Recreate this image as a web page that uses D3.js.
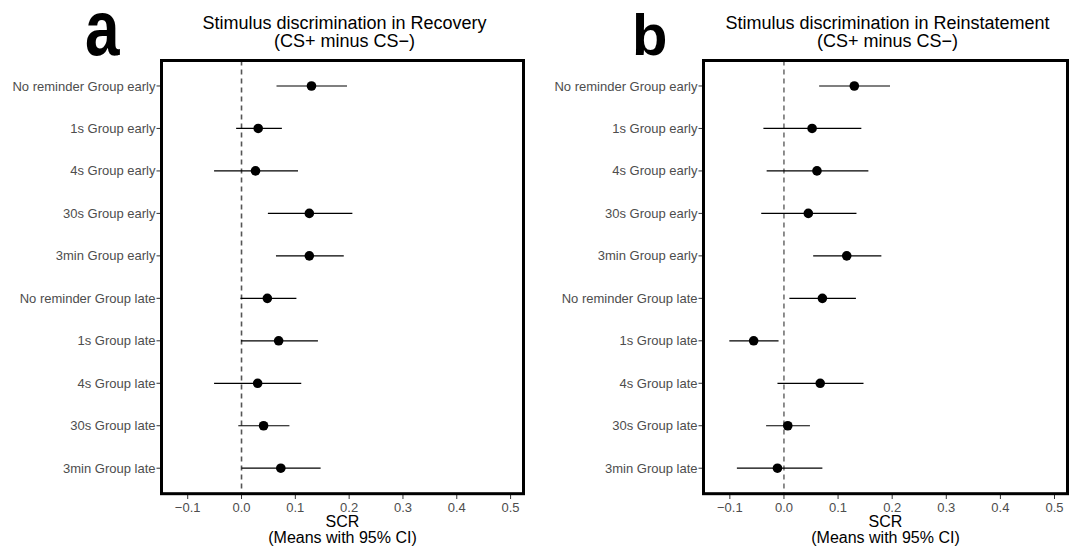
<!DOCTYPE html>
<html lang="en">
<head>
<meta charset="UTF-8" />
<script src="https://d3js.org/d3.v7.min.js"></script>
<title>Stimulus discrimination</title>
<style>
  body { margin: 0; background: #fff; }
  svg { font-family: "Liberation Sans", Arial, sans-serif; }
  .tick-label { fill: #4d4d4d; font-size: 13px; }
  .ci { stroke: #000; stroke-width: 1.2; }
  .dot { fill: #000; }
</style>
</head>
<body>
<script>
// groups, top to bottom
var groups = ["No reminder Group early", "1s Group early", "4s Group early", "30s Group early", "3min Group early",
              "No reminder Group late", "1s Group late", "4s Group late", "30s Group late", "3min Group late"];

// panel a: recovery
var recMean = [0.130, 0.031, 0.026, 0.126, 0.126, 0.048, 0.069, 0.030, 0.041, 0.073];
var recLow  = [0.065, -0.010, -0.051, 0.049, 0.064, -0.002, -0.001, -0.051, -0.006, 0.000];
var recHigh = [0.196, 0.075, 0.105, 0.206, 0.190, 0.102, 0.142, 0.111, 0.089, 0.147];

// panel b: reinstatement
var reiMean = [0.130, 0.052, 0.061, 0.045, 0.116, 0.071, -0.056, 0.067, 0.007, -0.012];
var reiLow  = [0.065, -0.038, -0.032, -0.042, 0.054, 0.010, -0.101, -0.012, -0.033, -0.087];
var reiHigh = [0.196, 0.143, 0.156, 0.134, 0.180, 0.133, -0.010, 0.147, 0.048, 0.071];

var xTicks = [-0.1, 0, 0.1, 0.2, 0.3, 0.4, 0.5];

var width = 1072, height = 547;
var svg = d3.select("body").append("svg").attr("width", width).attr("height", height);

function panel(opt) {
  var x = d3.scaleLinear().domain([-0.1487, 0.524]).range([opt.left, opt.right]);
  var y = d3.scalePoint().domain(groups).range([60.5, 493.7]).padding(0.6);
  var g = svg.append("g");
  var cx = (opt.left + opt.right) / 2;

  // y axis labels + ticks
  g.selectAll(".ylab").data(groups).enter().append("text")
    .attr("class", "tick-label")
    .attr("x", opt.left - 6).attr("y", function(d){ return y(d); })
    .attr("dy", "0.35em").attr("text-anchor", "end")
    .text(function(d){ return d; });
  g.selectAll(".ytick").data(groups).enter().append("line")
    .attr("x1", opt.left - 5).attr("x2", opt.left)
    .attr("y1", function(d){ return y(d); }).attr("y2", function(d){ return y(d); })
    .attr("stroke", "#333").attr("stroke-width", 1);

  // x axis
  g.selectAll(".xtick").data(xTicks).enter().append("line")
    .attr("x1", function(d){ return x(d); }).attr("x2", function(d){ return x(d); })
    .attr("y1", 494).attr("y2", 499)
    .attr("stroke", "#333").attr("stroke-width", 1);
  g.selectAll(".xlab").data(xTicks).enter().append("text")
    .attr("class", "tick-label")
    .attr("x", function(d){ return x(d); }).attr("y", 511.5)
    .attr("text-anchor", "middle")
    .text(function(d){ return d3.format(".1f")(d).replace("-", "\u2212"); });

  // zero line
  g.append("line")
    .attr("x1", x(0)).attr("x2", x(0)).attr("y1", 60.5).attr("y2", 493.7)
    .attr("stroke", opt.zeroColor).attr("stroke-width", opt.zeroWidth)
    .attr("stroke-dasharray", "5,4");

  // intervals and means
  var rows = groups.map(function(d, i){ return {g: d, m: opt.mean[i], lo: opt.low[i], hi: opt.high[i]}; });
  g.selectAll(".ci").data(rows).enter().append("line")
    .attr("class", "ci")
    .attr("x1", function(d){ return x(d.lo); }).attr("x2", function(d){ return x(d.hi); })
    .attr("y1", function(d){ return y(d.g); }).attr("y2", function(d){ return y(d.g); });
  g.selectAll(".dot").data(rows).enter().append("circle")
    .attr("class", "dot")
    .attr("cx", function(d){ return x(d.m); }).attr("cy", function(d){ return y(d.g); })
    .attr("r", 4.8);

  // border
  g.append("rect")
    .attr("x", opt.left).attr("y", 60.5)
    .attr("width", opt.right - opt.left).attr("height", 493.7 - 60.5)
    .attr("fill", "none").attr("stroke", "#000").attr("stroke-width", 3);

  // title
  var t = g.append("text").attr("text-anchor", "middle").attr("font-size", "18px").attr("fill", "#000");
  t.append("tspan").attr("x", cx + 2).attr("y", 28.5).text(opt.title);
  t.append("tspan").attr("x", cx + 2).attr("y", 47).text("(CS+ minus CS\u2212)");

  // x title
  var xt = g.append("text").attr("text-anchor", "middle").attr("font-size", "16px").attr("fill", "#000");
  xt.append("tspan").attr("x", cx).attr("y", 527).text("SCR");
  xt.append("tspan").attr("x", cx).attr("y", 542.5).text("(Means with 95% CI)");

  // panel letter
  g.append("text")
    .attr("transform", "translate(" + opt.letterX + ",55) scale(" + opt.letterSx + "," + opt.letterSy + ")")
    .attr("font-weight", "bold").attr("font-size", "58px")
    .text(opt.letter);
}

panel({left: 161.5, right: 523.5, mean: recMean, low: recLow, high: recHigh,
       title: "Stimulus discrimination in Recovery", zeroColor: "#555", zeroWidth: 1.6,
       letter: "a", letterX: 85, letterSx: 1.07, letterSy: 1.33});
panel({left: 703.5, right: 1067.5, mean: reiMean, low: reiLow, high: reiHigh,
       title: "Stimulus discrimination in Reinstatement", zeroColor: "#333", zeroWidth: 1.1,
       letter: "b", letterX: 632, letterSx: 1, letterSy: 1});
</script>
</body>
</html>
